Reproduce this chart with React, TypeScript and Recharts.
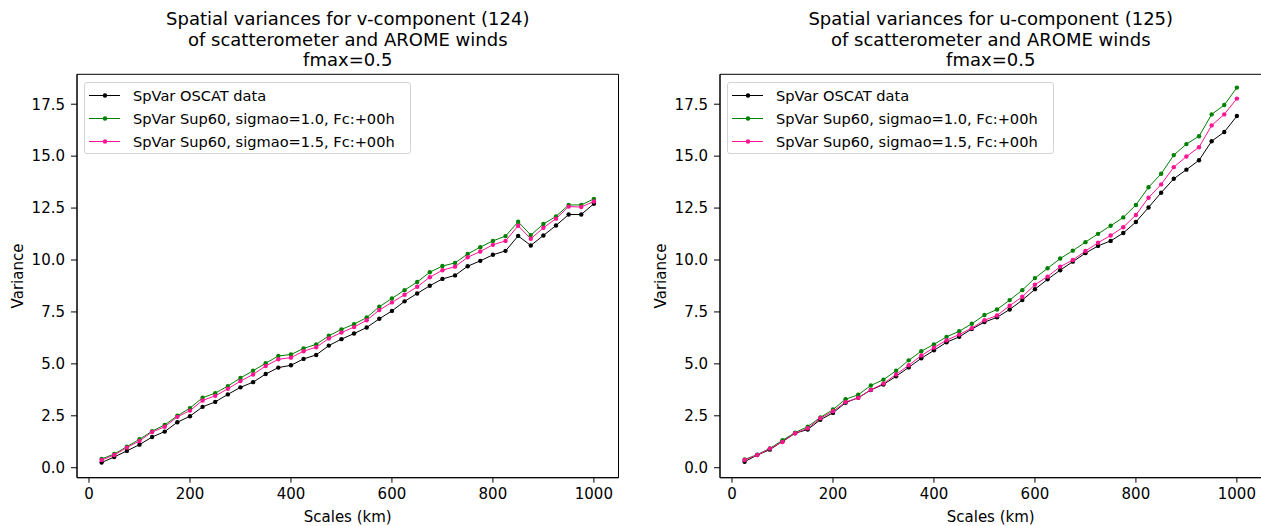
import React from 'react';
import { LineChart, Line, XAxis, YAxis, ReferenceArea, Legend } from 'recharts';

const scales = [25, 50, 75, 100, 125, 150, 175, 200, 225, 250, 275, 300, 325, 350, 375, 400, 425, 450, 475, 500,
  525, 550, 575, 600, 625, 650, 675, 700, 725, 750, 775, 800, 825, 850, 875, 900, 925, 950, 975, 1000];

const vObs = [0.25, 0.52, 0.81, 1.11, 1.48, 1.74, 2.19, 2.48, 2.93, 3.17, 3.53, 3.87, 4.12, 4.51, 4.82, 4.93, 5.24, 5.43, 5.88, 6.19,
  6.46, 6.75, 7.17, 7.55, 8.01, 8.39, 8.76, 9.09, 9.26, 9.70, 9.96, 10.25, 10.44, 11.16, 10.70, 11.18, 11.66, 12.19, 12.19, 12.71];
const vSig10 = [0.42, 0.66, 1.01, 1.37, 1.76, 2.06, 2.50, 2.87, 3.37, 3.59, 3.93, 4.32, 4.67, 5.03, 5.38, 5.45, 5.74, 5.94, 6.35, 6.66,
  6.91, 7.23, 7.75, 8.15, 8.55, 8.94, 9.41, 9.71, 9.86, 10.29, 10.62, 10.92, 11.15, 11.84, 11.20, 11.73, 12.10, 12.65, 12.65, 12.94];
const vSig15 = [0.37, 0.61, 0.97, 1.29, 1.72, 1.97, 2.45, 2.75, 3.24, 3.46, 3.80, 4.17, 4.49, 4.90, 5.22, 5.30, 5.61, 5.80, 6.22, 6.51,
  6.77, 7.10, 7.59, 7.96, 8.33, 8.71, 9.17, 9.51, 9.68, 10.13, 10.41, 10.73, 10.92, 11.65, 11.02, 11.55, 11.99, 12.57, 12.55, 12.82];

const uObs = [0.29, 0.61, 0.87, 1.27, 1.66, 1.84, 2.31, 2.64, 3.13, 3.37, 3.74, 4.01, 4.40, 4.83, 5.27, 5.65, 6.04, 6.30, 6.68, 7.01,
  7.24, 7.62, 8.07, 8.59, 9.07, 9.51, 9.92, 10.33, 10.68, 10.92, 11.30, 11.83, 12.53, 13.24, 13.91, 14.35, 14.80, 15.72, 16.16, 16.93];
const uSig10 = [0.40, 0.63, 0.93, 1.32, 1.69, 1.98, 2.42, 2.80, 3.30, 3.51, 3.96, 4.24, 4.67, 5.17, 5.61, 5.94, 6.30, 6.57, 6.93, 7.35,
  7.62, 8.07, 8.55, 9.13, 9.60, 10.07, 10.45, 10.86, 11.26, 11.65, 12.05, 12.65, 13.50, 14.15, 15.05, 15.58, 15.96, 17.01, 17.46, 18.30];
const uSig15 = [0.37, 0.61, 0.92, 1.24, 1.66, 1.90, 2.38, 2.72, 3.16, 3.37, 3.75, 4.05, 4.49, 4.93, 5.40, 5.78, 6.14, 6.41, 6.72, 7.10,
  7.33, 7.80, 8.23, 8.81, 9.20, 9.68, 10.00, 10.43, 10.83, 11.18, 11.58, 12.17, 13.00, 13.64, 14.47, 14.98, 15.43, 16.48, 17.01, 17.77];

const xTicks = [0, 200, 400, 600, 800, 1000];
const yTicks = [0, 2.5, 5, 7.5, 10, 12.5, 15, 17.5];

const seriesNames = ['SpVar OSCAT data', 'SpVar Sup60, sigmao=1.0, Fc:+00h', 'SpVar Sup60, sigmao=1.5, Fc:+00h'];
const seriesColors = ['#000000', '#008000', '#ff1493'];

const titlesV = ['Spatial variances for v-component (124)', 'of scatterometer and AROME winds', 'fmax=0.5'];
const titlesU = ['Spatial variances for u-component (125)', 'of scatterometer and AROME winds', 'fmax=0.5'];

const X_DOMAIN: [number, number] = [-23.75, 1048.75];
const Y_DOMAIN: [number, number] = [-0.48, 18.94];
const FONT = '"DejaVu Sans", sans-serif';

function buildRows(a: number[], b: number[], c: number[]) {
  return scales.map((x, i) => ({ x, obs: a[i], s10: b[i], s15: c[i] }));
}

const LegendBox = () => (
  <div style={{
    width: 325, height: 70, border: '1px solid #d4d4d4', borderRadius: 3, background: '#fff',
    fontFamily: FONT, fontSize: 14.6, color: '#000', position: 'relative', boxSizing: 'content-box',
  }}>
    {seriesNames.map((n, i) => (
      <div key={n} style={{ position: 'absolute', left: 0, top: 1.5 + i * 22.8, height: 23, lineHeight: '23px', whiteSpace: 'nowrap' }}>
        <svg width={40} height={23} style={{ position: 'absolute', left: 4, top: 0 }}>
          <line x1={0} y1={11.5} x2={31} y2={11.5} stroke={seriesColors[i]} strokeWidth={1} />
          <circle cx={16} cy={11.5} r={2.2} fill={seriesColors[i]} />
        </svg>
        <span style={{ position: 'absolute', left: 48, top: 0 }}>{n}</span>
      </div>
    ))}
  </div>
);

function Panel({ left, data, marginLeft, marginRight, legendLeft }: any) {
  const dot = (c: string) => ({ r: 2.2, fill: c, stroke: c, strokeWidth: 0 });
  return (
    <div style={{ position: 'absolute', left, top: 0, width: 640, height: 526 }}>
      <LineChart width={640} height={526} data={data}
        margin={{ top: 74.3, right: marginRight, bottom: 18.3, left: marginLeft }}>
        <XAxis dataKey="x" type="number" domain={X_DOMAIN} ticks={xTicks} allowDataOverflow height={30}
          tickSize={5} tickMargin={6} stroke="#000" axisLine={{ stroke: '#000' }} tickLine={{ stroke: '#000' }}
          tick={{ fill: '#000', fontSize: 15, fontFamily: FONT }} interval={0} />
        <YAxis type="number" domain={Y_DOMAIN} ticks={yTicks} allowDataOverflow width={60}
          tickSize={6} tickMargin={6} stroke="#000" axisLine={{ stroke: '#000' }} tickLine={{ stroke: '#000' }}
          tick={{ fill: '#000', fontSize: 15, fontFamily: FONT }} interval={0}
          tickFormatter={(v: number) => v.toFixed(1)} />
        <ReferenceArea x1={X_DOMAIN[0]} x2={X_DOMAIN[1]} y1={Y_DOMAIN[0]} y2={Y_DOMAIN[1]}
          fill="none" fillOpacity={0} stroke="#000" strokeWidth={1} ifOverflow="visible" />
        <Line type="linear" dataKey="obs" name={seriesNames[0]} stroke={seriesColors[0]} strokeWidth={1}
          dot={dot(seriesColors[0])} activeDot={false} isAnimationActive={false} />
        <Line type="linear" dataKey="s10" name={seriesNames[1]} stroke={seriesColors[1]} strokeWidth={1}
          dot={dot(seriesColors[1])} activeDot={false} isAnimationActive={false} />
        <Line type="linear" dataKey="s15" name={seriesNames[2]} stroke={seriesColors[2]} strokeWidth={1}
          dot={dot(seriesColors[2])} activeDot={false} isAnimationActive={false} />
        <Legend layout="vertical" align="center" verticalAlign="middle" content={() => <LegendBox />}
          wrapperStyle={{ position: 'absolute', left: legendLeft, top: 81.5, width: 327, height: 72 }} />
      </LineChart>
    </div>
  );
}

function Texts() {
  const titleLine = (cx: number, lines: string[]) => lines.map((t, i) => (
    <text key={cx + '-' + i} x={cx} y={25 + i * 20.5} textAnchor="middle" fontSize={18} fontFamily={FONT} fill="#000">{t}</text>
  ));
  return (
    <svg width={1261} height={526} style={{ position: 'absolute', left: 0, top: 0, pointerEvents: 'none' }}>
      {titleLine(347.75, titlesV)}
      {titleLine(990.75, titlesU)}
      <text x={347.75} y={522} textAnchor="middle" fontSize={15} fontFamily={FONT} fill="#000">Scales (km)</text>
      <text x={990.75} y={522} textAnchor="middle" fontSize={15} fontFamily={FONT} fill="#000">Scales (km)</text>
      <text x={23} y={276} textAnchor="middle" fontSize={15} fontFamily={FONT} fill="#000" transform="rotate(-90 23 276)">Variance</text>
      <text x={666} y={276} textAnchor="middle" fontSize={15} fontFamily={FONT} fill="#000" transform="rotate(-90 666 276)">Variance</text>
    </svg>
  );
}

export default function App() {
  const dataV = buildRows(vObs, vSig10, vSig15);
  const dataU = buildRows(uObs, uSig10, uSig15);
  return (
    <div style={{ position: 'absolute', left: 0, top: 0, width: 1261, height: 526, overflow: 'hidden', background: '#fff' }}>
      <Panel left={0} data={dataV} marginLeft={17} marginRight={21.5} legendLeft={84} />
      <Panel left={640} data={dataU} marginLeft={20} marginRight={18.5} legendLeft={87} />
      <Texts />
    </div>
  );
}
